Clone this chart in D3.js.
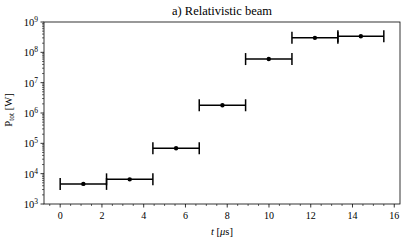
<!DOCTYPE html>
<html>
<head>
<meta charset="utf-8">
<script src="https://cdn.jsdelivr.net/npm/d3@7"></script>
<style>
  body { margin: 0; background: #fff; }
  text { font-family: "Liberation Serif", "DejaVu Serif", serif; fill: #000; }
</style>
</head>
<body>
<script>
// bin edges in microseconds and measured power per bin
var binLow = [0, 2.22, 4.44, 6.66, 8.88, 11.1, 13.3];
var binHigh = [2.22, 4.44, 6.66, 8.88, 11.1, 13.3, 15.5];
var binMid = [1.11, 3.33, 5.55, 7.77, 9.99, 12.2, 14.4];
var power = [4.6e3, 6.5e3, 6.9e4, 1.8e6, 6.0e7, 3.0e8, 3.4e8];
var xTicks = [0, 2, 4, 6, 8, 10, 12, 14, 16];
var yTicks = [3, 4, 5, 6, 7, 8, 9];

var width = 407, height = 244;
var margin = {top: 22, right: 7, bottom: 40, left: 44};

var svg = d3.select("body").append("svg")
    .attr("width", width)
    .attr("height", height);

var x = d3.scaleLinear()
    .domain([-0.775, 16.275])
    .range([margin.left, width - margin.right]);

var y = d3.scaleLog()
    .domain([1e3, 1e9])
    .range([height - margin.bottom, margin.top]);

var data = power.map(function(p, i) {
  return {lo: binLow[i], hi: binHigh[i], mid: binMid[i], p: p};
});

// x minor ticks at every 0.5
var xMinor = d3.range(-0.5, 16.3, 0.5).filter(function(v) { return v % 2 !== 0; });
var yMinor = [];
yTicks.slice(0, -1).forEach(function(e) {
  for (var k = 2; k < 10; k++) yMinor.push(k * Math.pow(10, e));
});

var axisG = svg.append("g");
var y0 = height - margin.bottom;

axisG.selectAll("line.xmaj").data(xTicks).enter().append("line")
    .attr("x1", function(d) { return x(d); })
    .attr("x2", function(d) { return x(d); })
    .attr("y1", y0).attr("y2", y0 + 3.5)
    .attr("stroke", "#000").attr("stroke-width", 0.8);

axisG.selectAll("line.xmin").data(xMinor).enter().append("line")
    .attr("x1", function(d) { return x(d); })
    .attr("x2", function(d) { return x(d); })
    .attr("y1", y0).attr("y2", y0 + 2)
    .attr("stroke", "#000").attr("stroke-width", 0.6);

axisG.selectAll("text.xl").data(xTicks).enter().append("text")
    .attr("x", function(d) { return x(d); })
    .attr("y", y0 + 15)
    .attr("text-anchor", "middle")
    .attr("font-size", 10)
    .text(function(d) { return d; });

axisG.selectAll("line.ymaj").data(yTicks).enter().append("line")
    .attr("x1", margin.left - 3.5).attr("x2", margin.left)
    .attr("y1", function(d) { return y(Math.pow(10, d)); })
    .attr("y2", function(d) { return y(Math.pow(10, d)); })
    .attr("stroke", "#000").attr("stroke-width", 0.8);

axisG.selectAll("line.ymin").data(yMinor).enter().append("line")
    .attr("x1", margin.left - 2).attr("x2", margin.left)
    .attr("y1", function(d) { return y(d); })
    .attr("y2", function(d) { return y(d); })
    .attr("stroke", "#000").attr("stroke-width", 0.6);

var yl = axisG.selectAll("text.yl").data(yTicks).enter().append("text")
    .attr("x", margin.left - 6)
    .attr("y", function(d) { return y(Math.pow(10, d)) + 4; })
    .attr("text-anchor", "end")
    .attr("font-size", 10.5);
yl.append("tspan").text("10");
yl.append("tspan").attr("dy", -4).attr("font-size", 7.5).text(function(d) { return d; });

// frame
svg.append("rect")
    .attr("x", margin.left).attr("y", margin.top)
    .attr("width", width - margin.left - margin.right)
    .attr("height", height - margin.top - margin.bottom)
    .attr("fill", "none").attr("stroke", "#000").attr("stroke-width", 0.8);

// error bars
var bars = svg.append("g");
bars.selectAll("line.h").data(data).enter().append("line")
    .attr("x1", function(d) { return x(d.lo); })
    .attr("x2", function(d) { return x(d.hi); })
    .attr("y1", function(d) { return y(d.p); })
    .attr("y2", function(d) { return y(d.p); })
    .attr("stroke", "#000").attr("stroke-width", 1.5);

["lo", "hi"].forEach(function(k) {
  bars.selectAll("line.cap" + k).data(data).enter().append("line")
      .attr("x1", function(d) { return x(d[k]); })
      .attr("x2", function(d) { return x(d[k]); })
      .attr("y1", function(d) { return y(d.p) - 6; })
      .attr("y2", function(d) { return y(d.p) + 6; })
      .attr("stroke", "#000").attr("stroke-width", 1.5);
});

bars.selectAll("circle").data(data).enter().append("circle")
    .attr("cx", function(d) { return x(d.mid); })
    .attr("cy", function(d) { return y(d.p); })
    .attr("r", 2.2)
    .attr("fill", "#000");

// title and labels
svg.append("text")
    .attr("x", (margin.left + width - margin.right) / 2)
    .attr("y", 15)
    .attr("text-anchor", "middle")
    .attr("font-size", 12.5)
    .text("a) Relativistic beam");

var xl = svg.append("text")
    .attr("x", (margin.left + width - margin.right) / 2)
    .attr("y", 235)
    .attr("text-anchor", "middle")
    .attr("font-size", 10.5);
xl.append("tspan").attr("font-style", "italic").text("t");
xl.append("tspan").text(" [");
xl.append("tspan").attr("font-style", "italic").text("μ");
xl.append("tspan").text("s]");

var ylab = svg.append("text")
    .attr("transform", "translate(12," + ((margin.top + height - margin.bottom) / 2 - 3) + ") rotate(-90)")
    .attr("text-anchor", "middle")
    .attr("font-size", 10.5);
ylab.append("tspan").text("P");
ylab.append("tspan").attr("dy", 2).attr("font-size", 7.5).text("tot");
ylab.append("tspan").attr("dy", -2).text(" [W]");
</script>
</body>
</html>
